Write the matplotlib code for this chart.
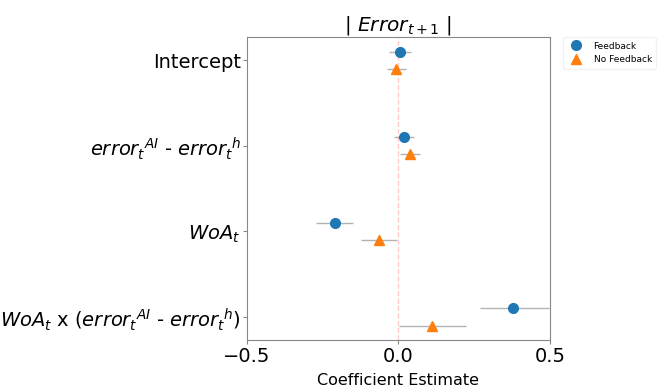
import matplotlib.pyplot as plt
import numpy as np

# regression terms, top to bottom
terms = ['Intercept',
         r'$error_t{}^{AI}$ - $error_t{}^h$',
         r'$WoA_t$',
         r'$WoA_t$ x ($error_t{}^{AI}$ - $error_t{}^h$)']

# coefficient estimates and 95% CI bounds
fb_coef = [0.004, 0.018, -0.210, 0.380]
fb_low = [-0.031, -0.014, -0.271, 0.268]
fb_high = [0.040, 0.051, -0.150, 0.497]

nofb_coef = [-0.007, 0.038, -0.064, 0.110]
nofb_low = [-0.039, 0.005, -0.124, 0.001]
nofb_high = [0.026, 0.070, -0.005, 0.224]

fig = plt.figure(figsize=(6.64, 3.91), dpi=100)
ax = fig.add_axes([0.372, 0.130, 0.456, 0.775])

y = np.arange(len(terms))
off = 0.1

# confidence intervals
ax.hlines(y - off, fb_low, fb_high, color='gray', lw=1, alpha=0.6, zorder=1)
ax.hlines(y + off, nofb_low, nofb_high, color='gray', lw=1, alpha=0.6, zorder=1)

ax.plot(fb_coef, y - off, 'o', color='#1f77b4', ms=7, ls='none', label='Feedback', zorder=3)
ax.plot(nofb_coef, y + off, '^', color='#ff7f0e', ms=7.5, ls='none', label='No Feedback', zorder=3)

ax.axvline(0, color='red', ls='--', lw=1, alpha=0.2, zorder=0)

ax.set_xlim(-0.5, 0.5)
ax.set_ylim(3.27, -0.27)
ax.set_yticks(y)
ax.set_yticklabels(terms, fontsize=14)
ax.set_xticks([-0.5, 0.0, 0.5])
ax.tick_params(axis='x', labelsize=14, color='#888888', length=3, pad=2)
ax.tick_params(axis='y', color='#888888', length=3, pad=1.5)
for s in ax.spines.values():
    s.set_color('#888888')

ax.set_xlabel('Coefficient Estimate', fontsize=11.5, labelpad=5)
ax.set_title(r'| $Error_{t+1}$ |', fontsize=14.5, pad=5)

ax.legend(loc='upper left', bbox_to_anchor=(1.043, 1.0), borderaxespad=0, fontsize=6.5,
          frameon=True, edgecolor='#eeeeee', handletextpad=0.9, borderpad=0.5,
          labelspacing=0.5)

plt.savefig('out.png', dpi=100)
